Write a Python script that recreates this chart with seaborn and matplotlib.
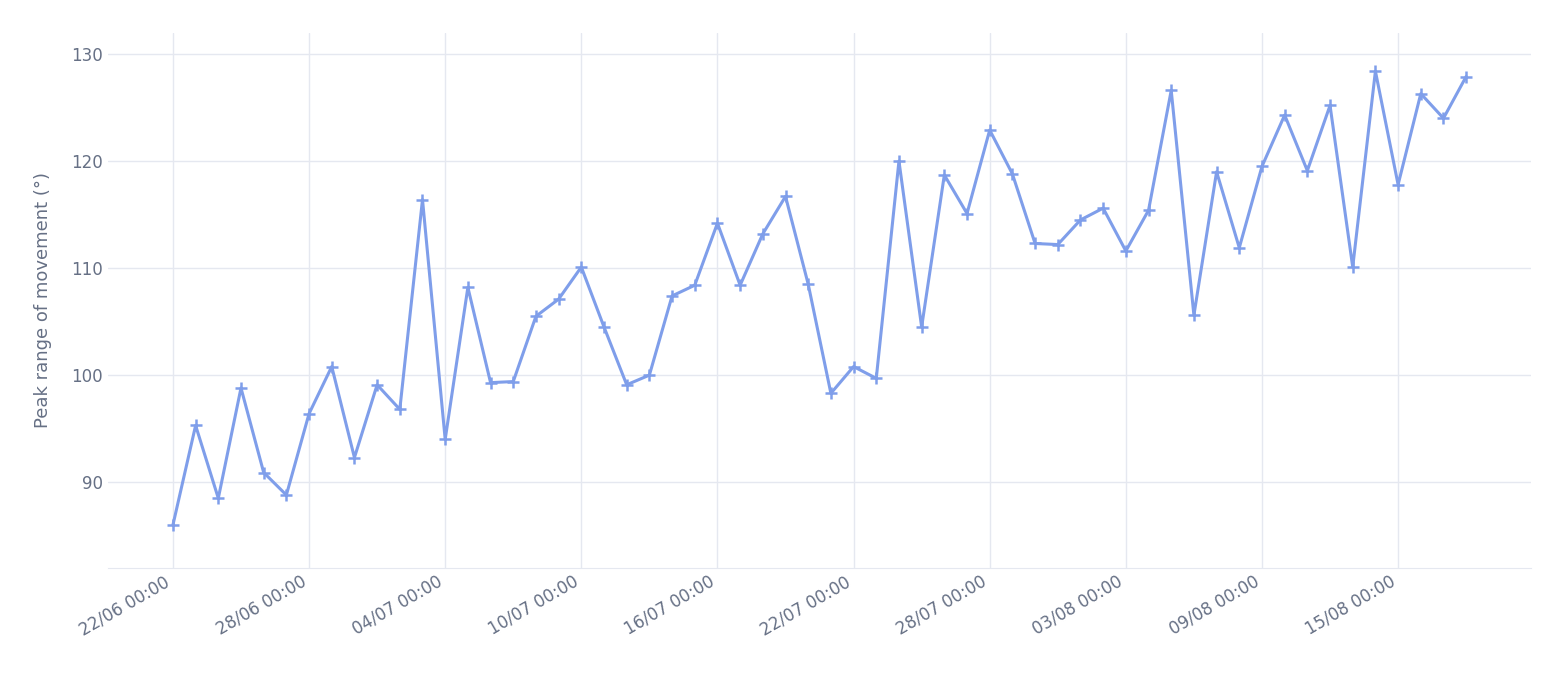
import matplotlib
matplotlib.use("Agg")
import matplotlib.pyplot as plt
import matplotlib.dates as mdates
import pandas as pd
import seaborn as sns

start = "2024-06-22"
values = [86.0, 95.3, 88.5, 98.8, 90.9, 88.8, 96.4, 100.8, 92.3, 99.1, 96.8, 116.4,
          94.0, 108.2, 99.3, 99.4, 105.5, 107.1, 110.1, 104.5, 99.1, 100.0, 107.4, 108.4,
          114.2, 108.4, 113.2, 116.7, 108.5, 98.3, 100.8, 99.7, 120.0, 104.5, 118.7, 115.1,
          122.9, 118.8, 112.3, 112.2, 114.5, 115.6, 111.6, 115.4, 126.6, 105.6, 119.0, 111.9,
          119.5, 124.3, 119.1, 125.2, 110.1, 128.4, 117.8, 126.3, 124.0, 127.9]
dates = pd.date_range(start, periods=len(values), freq="D")
df = pd.DataFrame({"date": dates, "value": values})
ylabel = "Peak range of movement (°)"

sns.set_style("white")
fig, ax = plt.subplots(figsize=(15.64, 6.8), dpi=100)
fig.subplots_adjust(left=0.069, right=0.979, top=0.952, bottom=0.165)
sns.lineplot(data=df, x="date", y="value", ax=ax, color="#7f9eea", linewidth=2.2,
             marker="+", markersize=9, markeredgewidth=1.8, markeredgecolor="#7f9eea")
ax.set_xlim(pd.Timestamp("2024-06-19 03:14"), pd.Timestamp("2024-08-20 20:45"))
ax.set_ylim(82, 132)
ax.set_yticks([90, 100, 110, 120, 130])
ticks = pd.date_range("2024-06-22", "2024-08-15", freq="6D")
ax.set_xticks(ticks)
ax.xaxis.set_major_formatter(mdates.DateFormatter("%d/%m %H:%M"))
ax.grid(True, color="#e5e8f0", linewidth=1)
for s in ["top", "right", "left"]:
    ax.spines[s].set_visible(False)
ax.spines["bottom"].set_color("#e5e8f0")
ax.tick_params(colors="#667085", labelsize=12, length=0)
plt.setp(ax.get_xticklabels(), rotation=30, ha="right")
ax.set_xlabel("")
ax.set_ylabel(ylabel, color="#667085", fontsize=13, labelpad=14)
fig.savefig("out.png")
